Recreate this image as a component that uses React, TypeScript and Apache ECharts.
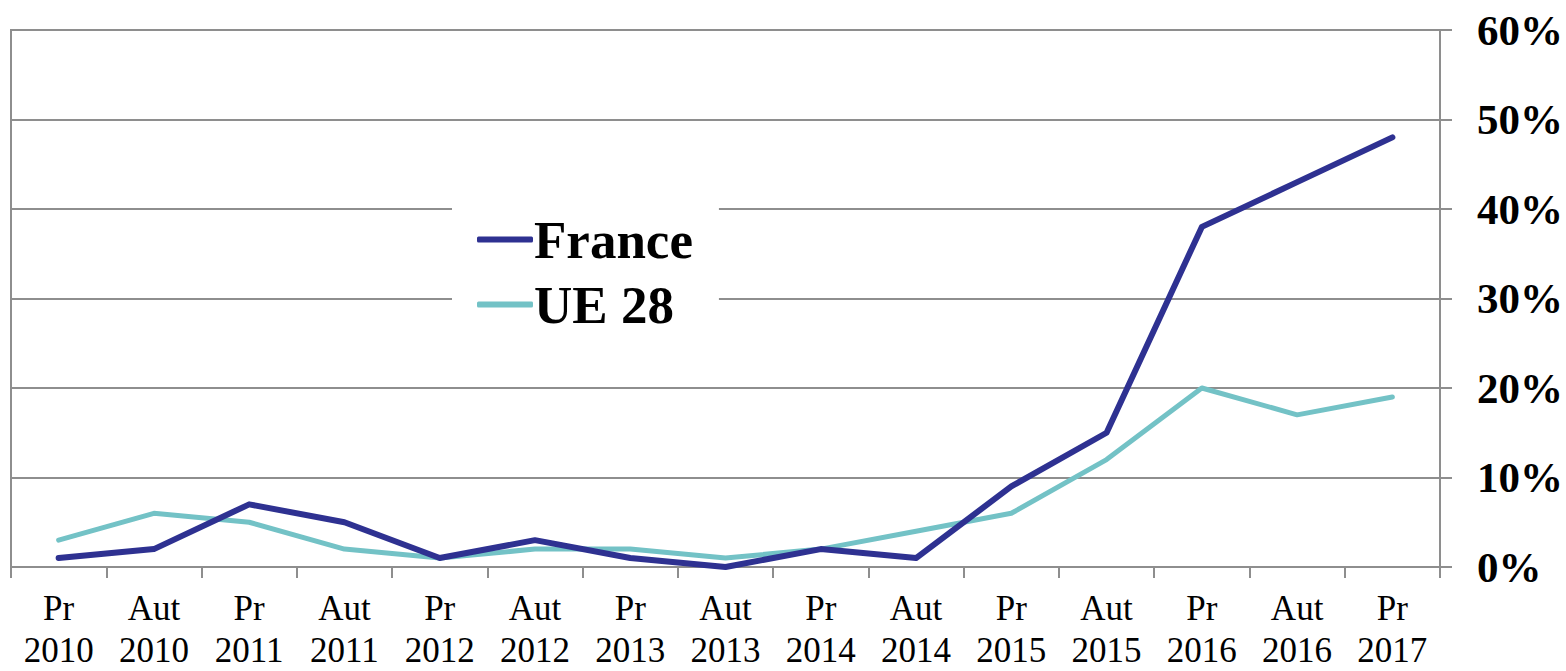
import React, { useEffect, useRef } from "react";
import * as echarts from "echarts";

const categories = [
  "Pr\n2010", "Aut\n2010", "Pr\n2011", "Aut\n2011", "Pr\n2012", "Aut\n2012", "Pr\n2013", "Aut\n2013",
  "Pr\n2014", "Aut\n2014", "Pr\n2015", "Aut\n2015", "Pr\n2016", "Aut\n2016", "Pr\n2017",
];
const franceValues = [1, 2, 7, 5, 1, 3, 1, 0, 2, 1, 9, 15, 38, 43, 48];
const ue28Values = [3, 6, 5, 2, 1, 2, 2, 1, 2, 4, 6, 12, 20, 17, 19];

const FONT = '"Liberation Serif", "Times New Roman", serif';
const GRID = "#8e8e8e";

export default function App() {
  const ref = useRef<HTMLDivElement>(null);
  useEffect(() => {
    document.body.style.margin = "0";
    const chart = echarts.init(ref.current!, null, { renderer: "svg" });
    chart.setOption({
      animation: false,
      backgroundColor: "#ffffff",
      grid: {
        left: 11,
        right: 123,
        top: 30,
        bottom: 103,
        show: true,
        borderColor: GRID,
        borderWidth: 2,
        backgroundColor: "transparent",
      },
      legend: {
        orient: "vertical",
        left: 452,
        top: 203,
        padding: [10, 26, 10, 25],
        backgroundColor: "#ffffff",
        icon: "roundRect",
        itemWidth: 56,
        itemHeight: 6,
        itemGap: 12,
        textStyle: {
          fontFamily: FONT,
          fontWeight: "bold",
          fontSize: 53,
          lineHeight: 53,
          color: "#000",
          padding: [0, 0, 0, -4],
        },
        data: ["France", "UE 28"],
      },
      xAxis: {
        type: "category",
        data: categories,
        boundaryGap: true,
        axisLine: { show: true, lineStyle: { color: GRID, width: 2 } },
        axisTick: { show: true, length: 11, lineStyle: { color: GRID, width: 2 } },
        axisLabel: {
          interval: 0,
          margin: 20,
          fontFamily: FONT,
          fontSize: 35,
          lineHeight: 42,
          color: "#000",
        },
        splitLine: { show: false },
      },
      yAxis: {
        type: "value",
        position: "right",
        min: 0,
        max: 60,
        interval: 10,
        axisLine: { show: true, lineStyle: { color: GRID, width: 2 } },
        axisTick: { show: true, length: 12, lineStyle: { color: GRID, width: 2 } },
        axisLabel: {
          formatter: "{value}%",
          margin: 37,
          fontFamily: FONT,
          fontWeight: "bold",
          fontSize: 43,
          color: "#000",
        },
        splitLine: { show: true, lineStyle: { color: GRID, width: 2 } },
      },
      series: [
        {
          name: "France",
          type: "line",
          data: franceValues,
          symbol: "none",
          z: 3,
          lineStyle: { color: "#2e3191", width: 6, cap: "round", join: "round" },
          itemStyle: { color: "#2e3191" },
        },
        {
          name: "UE 28",
          type: "line",
          data: ue28Values,
          symbol: "none",
          z: 2,
          lineStyle: { color: "#73c2c6", width: 5, cap: "round", join: "round" },
          itemStyle: { color: "#73c2c6" },
        },
      ],
    });
    return () => chart.dispose();
  }, []);
  return (
    <div
      ref={ref}
      style={{ position: "absolute", left: 0, top: 0, width: 1566, height: 671 }}
    />
  );
}
